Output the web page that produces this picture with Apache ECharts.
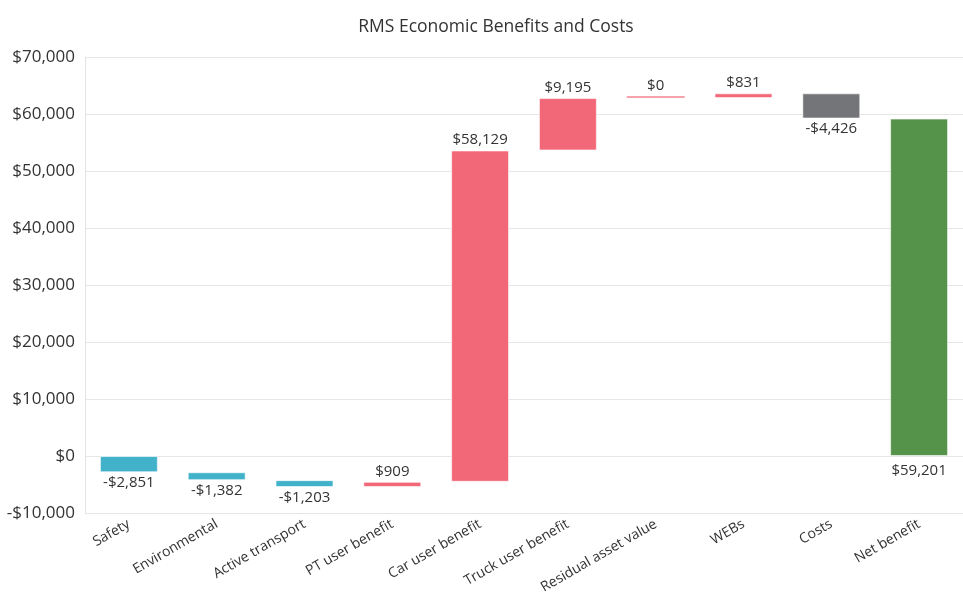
<!DOCTYPE html>
<html>
<head>
<meta charset="utf-8">
<script src="https://cdn.jsdelivr.net/npm/echarts@6/dist/echarts.min.js"></script>
<style>
  html, body { margin: 0; padding: 0; background: #fff; }
  #chart { width: 963px; height: 601px; }
</style>
</head>
<body>
<div id="chart"></div>
<script>
var categories = ['Safety', 'Environmental', 'Active transport', 'PT user benefit', 'Car user benefit',
  'Truck user benefit', 'Residual asset value', 'WEBs', 'Costs', 'Net benefit'];
// step changes, last one is the net total
var changes = [-2851, -1382, -1203, 909, 58129, 9195, 0, 831, -4426];
var netBenefit = 59201;
var yTicks = [-10000, 0, 10000, 20000, 30000, 40000, 50000, 60000, 70000];

var FONT = 'Open Sans';
var colors = {
  minus: '#41b2ca',
  plus: '#f26878',
  zero: '#f7a3ac',
  costs: '#737578',
  net: '#55924a'
};

function money(v) {
  var s = '$' + Math.abs(v).toLocaleString('en-US');
  return v < 0 ? '-' + s : s;
}

var baseData = [];
var barData = [];
var running = 0;
changes.forEach(function (v, i) {
  var low = v < 0 ? running + v : running;
  var c = v < 0 ? colors.minus : (v === 0 ? colors.zero : colors.plus);
  if (categories[i] === 'Costs') c = colors.costs;
  baseData.push(low);
  barData.push({
    value: Math.abs(v),
    real: v,
    itemStyle: v === 0 ? { color: c, borderWidth: 0 } : { color: c },
    label: { position: v < 0 ? 'bottom' : 'top' }
  });
  running += v;
});
baseData.push(0);
barData.push({
  value: netBenefit,
  real: netBenefit,
  itemStyle: { color: colors.net },
  label: { position: 'bottom', distance: 7 }
});

var chart = echarts.init(document.getElementById('chart'));

var option = {
  animation: false,
  textStyle: { fontFamily: FONT },
  title: {
    text: 'RMS Economic Benefits and Costs',
    left: 491,
    top: 13,
    textAlign: 'center',
    textStyle: { fontFamily: FONT, fontSize: 17.5, fontWeight: 'normal', color: '#333' }
  },
  grid: { left: 85, right: 0, top: 57, bottom: 88, containLabel: false },
  xAxis: {
    type: 'category',
    data: categories,
    axisLine: { show: false },
    axisTick: { show: false },
    axisLabel: {
      interval: 0,
      rotate: 30,
      margin: 10,
      fontSize: 14,
      color: '#333',
      fontFamily: FONT
    }
  },
  yAxis: {
    type: 'value',
    min: yTicks[0],
    max: yTicks[yTicks.length - 1],
    interval: 10000,
    axisLine: { show: true, lineStyle: { color: '#e4e4e4' } },
    axisTick: { show: false },
    splitLine: { lineStyle: { color: '#e6e6e6' } },
    axisLabel: {
      margin: 10,
      fontSize: 17,
      color: '#333',
      fontFamily: FONT,
      formatter: money
    }
  },
  series: [
    {
      type: 'bar',
      stack: 'wf',
      stackStrategy: 'all',
      silent: true,
      itemStyle: { color: 'transparent' },
      data: baseData
    },
    {
      type: 'bar',
      stack: 'wf',
      stackStrategy: 'all',
      barWidth: '66%',
      barMinHeight: 2,
      itemStyle: { borderColor: 'rgba(255,255,255,0.6)', borderWidth: 1 },
      label: {
        show: true,
        fontSize: 15,
        color: '#333',
        fontFamily: FONT,
        distance: 3,
        formatter: function (p) { return money(p.data.real); }
      },
      data: barData
    }
  ]
};

chart.setOption(option);
</script>
</body>
</html>
